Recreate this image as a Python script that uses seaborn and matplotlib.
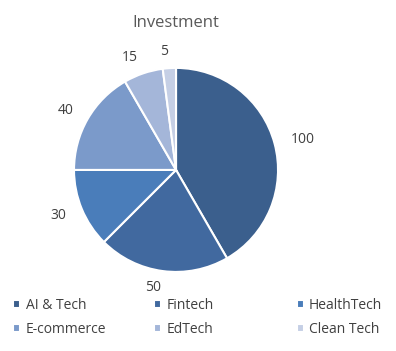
import matplotlib.pyplot as plt
import seaborn as sns

# datos del grafico
sectors = ["AI & Tech", "Fintech", "HealthTech", "E-commerce", "EdTech", "Clean Tech"]
investment = [100, 50, 30, 40, 15, 5]
colors = ["#3B5F8D", "#41699F", "#4A7DBA", "#7B9ACA", "#A4B6D9", "#C5CFE5"]

sns.set_theme(style="white")
plt.rcParams['font.family'] = ['Open Sans', 'DejaVu Sans']

fig = plt.figure(figsize=(3.96, 3.51), dpi=100)
ax = fig.add_axes([0.1225, 0.1524, 0.644, 0.727])

wedges, texts = ax.pie(investment, labels=[str(v) for v in investment], colors=colors,
                       startangle=90, counterclock=False, labeldistance=1.16,
                       wedgeprops=dict(edgecolor="white", linewidth=1.5),
                       textprops=dict(color="#404040", fontsize=10))
ax.set_aspect("equal")

fig.text(0.444, 0.935, "Investment", ha="center", va="center", fontsize=12, color="#595959")

# leyenda en columnas de igual ancho, como en Excel
col_x = [0.02, 0.376, 0.735]
for c, x in enumerate(col_x):
    idx = [c, c + 3]
    fig.legend([wedges[i] for i in idx], [sectors[i] for i in idx],
               loc="lower left", bbox_to_anchor=(x, 0.025), borderaxespad=0,
               frameon=False, fontsize=10, handlelength=0.5, handleheight=0.5,
               handletextpad=0.4, labelcolor="#404040", labelspacing=0.65)

fig.savefig("out.png", dpi=100)
